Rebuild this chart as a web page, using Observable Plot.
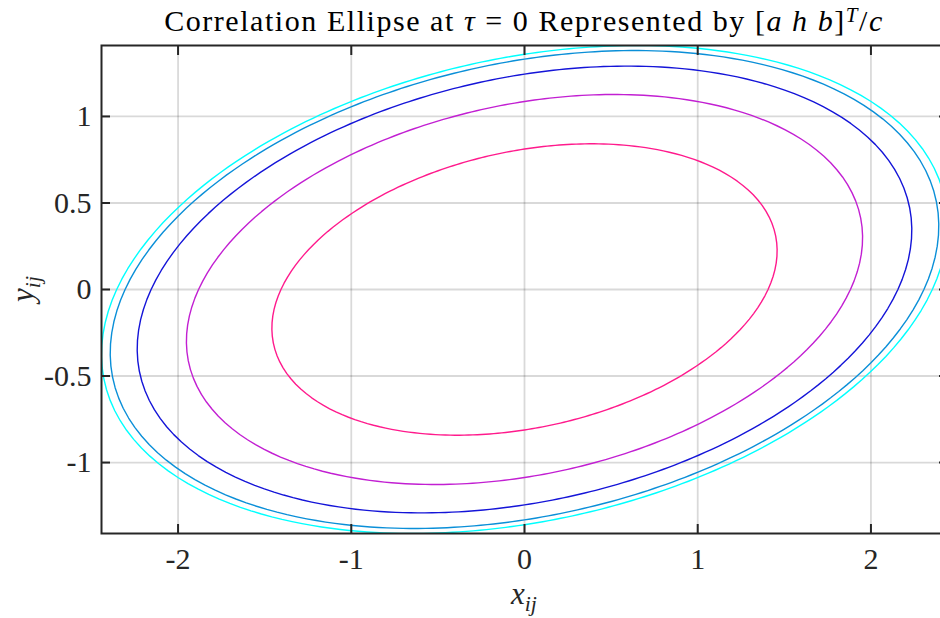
<!DOCTYPE html>
<html><head><meta charset="utf-8">
<script src="https://cdn.jsdelivr.net/npm/d3@7"></script>
<script src="https://cdn.jsdelivr.net/npm/@observablehq/plot@0.6"></script>
<style>
html,body{margin:0;padding:0;background:#fff;overflow:hidden}
#wrap{position:relative;width:940px;height:618px;font-family:"Liberation Serif",serif;color:#000;overflow:hidden}
#title{position:absolute;left:0;top:4px;width:1048px;text-align:center;font-size:30px;letter-spacing:1.55px;line-height:34px;white-space:nowrap;color:#000}
#xlab{position:absolute;left:0;top:577px;width:1048px;text-align:center;font-size:31px;line-height:34px;color:#262626}
#ylab{position:absolute;left:23px;top:289px;transform:translate(-50%,-50%) rotate(-90deg);font-size:31px;line-height:34px;color:#262626;white-space:nowrap}
sub{font-size:0.7em;vertical-align:-0.3em;line-height:0}
sup{font-size:0.7em;vertical-align:0.45em;line-height:0}
#chart{position:absolute;left:0;top:0}
</style>
</head><body>
<div id="wrap">
  <div id="chart"></div>
  <div id="title">Correlation Ellipse at <i>τ</i> = 0 Represented by [<i>a</i>&nbsp;<i>h</i>&nbsp;<i>b</i>]<sup><i>T</i></sup>/<i>c</i></div>
  <div id="xlab"><i>x</i><sub><i>ij</i></sub></div>
  <div id="ylab"><i>y</i><sub><i>ij</i></sub></div>
</div>
<script>
// Quadratic form coefficients [a h b] (a x^2 + 2 h x y + b y^2 = c)
const formA = 1.0;
const formH = -0.46;
const formB = 3.0;
// Contour levels c, outermost to innermost
const levels = [5.543, 5.317, 4.647, 3.541, 1.977];
const levelColors = ["#00ffff", "#0a8fd8", "#1414d8", "#c21fd2", "#ff1a8c"];
const xTicks = [-2, -1, 0, 1, 2];
const yTicks = [-1, -0.5, 0, 0.5, 1];
const xDomain = [-2.442, 2.442];
const yDomain = [-1.41, 1.41];

const points = [];
const N = 240;
for (const c of levels) {
  for (let i = 0; i < N; i++) {
    const t = 2 * Math.PI * i / N;
    const ct = Math.cos(t), st = Math.sin(t);
    const r = Math.sqrt(c / (formA * ct * ct + 2 * formH * ct * st + formB * st * st));
    points.push({level: c, x: r * ct, y: r * st});
  }
}

const fmt = d => String(d);
const serif = "'Liberation Serif', serif";
const axisStyle = {stroke: "#262626", strokeWidth: 2, fontFamily: serif, fontSize: 30};

const chart = Plot.plot({
  width: 940, height: 618,
  marginLeft: 101, marginRight: -7, marginTop: 45, marginBottom: 85,
  x: {domain: xDomain, label: null},
  y: {domain: yDomain, label: null},
  color: {type: "ordinal", domain: levels, range: levelColors},
  style: {fontFamily: serif, fontSize: "30px", color: "#262626", background: "#fff"},
  marks: [
    Plot.gridX(xTicks, {stroke: "#000", strokeOpacity: 0.15, strokeWidth: 1.8}),
    Plot.gridY(yTicks, {stroke: "#000", strokeOpacity: 0.15, strokeWidth: 1.8}),
    Plot.line(points, {x: "x", y: "y", z: "level", stroke: "level", strokeWidth: 1.4, curve: "linear-closed", clip: true}),
    Plot.axisX(xTicks, {anchor: "bottom", tickSize: -9, tickPadding: 23, tickFormat: fmt, ...axisStyle, label: null}),
    Plot.axisX(xTicks, {anchor: "top", tickSize: -9, tickFormat: () => "", ...axisStyle, label: null}),
    Plot.axisY(yTicks, {anchor: "left", tickSize: -9, tickPadding: 19, tickFormat: fmt, ...axisStyle, label: null}),
    Plot.axisY(yTicks, {anchor: "right", tickSize: -9, tickFormat: () => "", ...axisStyle, label: null}),
    Plot.frame({stroke: "#262626", strokeWidth: 2})
  ]
});
document.getElementById("chart").appendChild(chart);
</script>
</body></html>
